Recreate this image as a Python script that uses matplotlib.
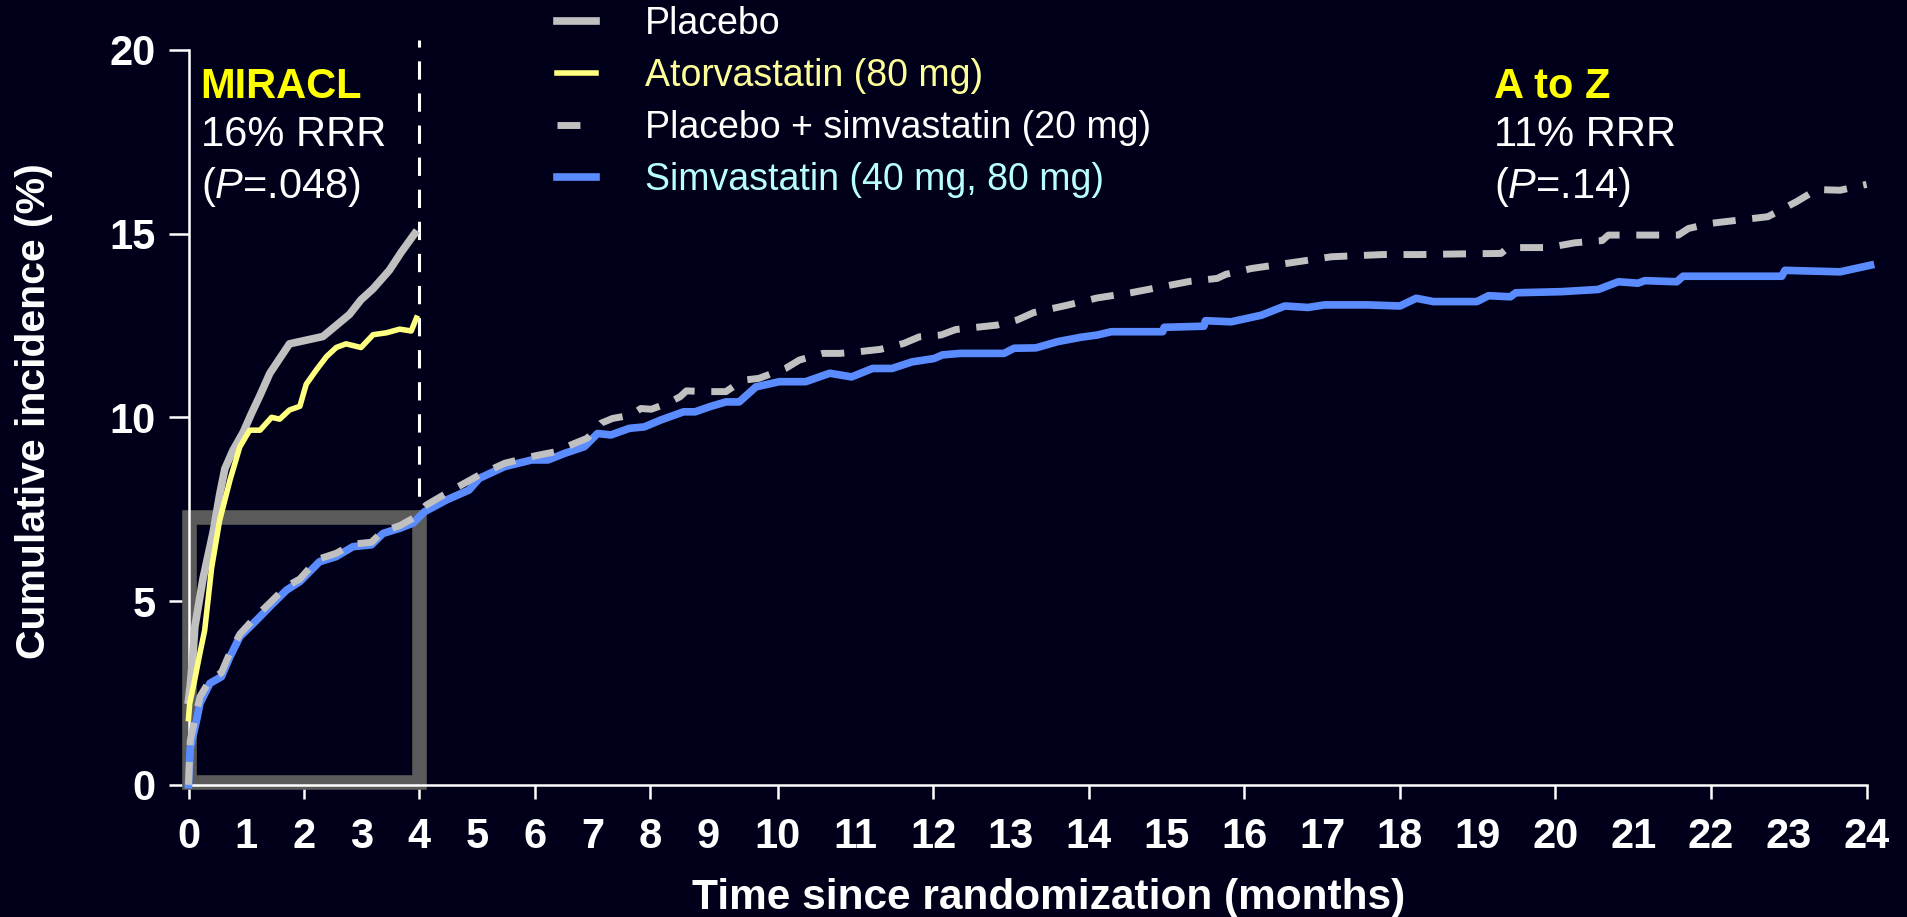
import numpy as np
import matplotlib
matplotlib.use("Agg")
import matplotlib.pyplot as plt
from matplotlib.patches import Rectangle
from matplotlib import font_manager

plt.rcParams['font.family'] = ['Liberation Sans', 'DejaVu Sans']
plt.rcParams['mathtext.fontset'] = 'custom'
plt.rcParams['mathtext.rm'] = 'Liberation Sans'
plt.rcParams['mathtext.it'] = 'Liberation Sans:italic'

_names = {f.name for f in font_manager.fontManager.ttflist}
TICK_FAMILY = ['Liberation Sans Narrow'] if 'Liberation Sans Narrow' in _names else ['Liberation Sans']
TICK_SIZE = 34 if 'Liberation Sans Narrow' in _names else 30

# ---------------- data ----------------
placebo_miracl_m = [0, 0.03, 0.08, 0.11, 0.25, 0.43, 0.54, 0.63, 0.77, 0.95, 1.09, 1.24, 1.41,
                    1.58, 1.75, 2.04, 2.33, 2.56, 2.79, 2.99, 3.2, 3.48, 3.69, 3.92]
placebo_miracl_v = [2.3, 2.7, 3.6, 4.3, 5.6, 6.9, 7.9, 8.6, 9.1, 9.6, 10.1, 10.6, 11.2,
                    11.6, 12.0, 12.1, 12.2, 12.5, 12.8, 13.2, 13.5, 14.0, 14.5, 15.0]

atorva_m = [0, 0.02, 0.1, 0.2, 0.28, 0.4, 0.54, 0.72, 0.89, 1.06, 1.24, 1.44, 1.58, 1.75, 1.93,
            2.04, 2.22, 2.39, 2.56, 2.73, 2.99, 3.2, 3.43, 3.66, 3.86, 3.95]
atorva_v = [1.8, 2.2, 2.8, 3.6, 4.2, 5.9, 7.2, 8.3, 9.2, 9.65, 9.65, 10.0, 9.95, 10.2, 10.3,
            10.9, 11.3, 11.65, 11.9, 12.0, 11.9, 12.25, 12.3, 12.4, 12.35, 12.7]

simva_m = [0, 0.03, 0.14, 0.2, 0.37, 0.57, 0.72, 0.89, 1.18, 1.41, 1.70, 1.93, 2.10, 2.27, 2.56,
           2.85, 3.17, 3.37, 3.66, 3.89, 4.09, 4.47, 4.86, 5.04, 5.48, 5.95, 6.23, 6.52, 6.86,
           7.09, 7.32, 7.64, 7.9, 8.19, 8.58, 8.78, 9.03, 9.26, 9.45, 9.69, 10.02, 10.36, 10.67,
           10.95, 11.22, 11.47, 11.73, 12.01, 12.12, 12.35, 12.91, 13.04, 13.32, 13.6, 13.9,
           14.11, 14.29, 14.95, 14.97, 15.48, 15.5, 15.83, 16.22, 16.52, 16.82, 17.03, 17.58,
           18.0, 18.21, 18.43, 18.99, 19.14, 19.42, 19.49, 20.08, 20.55, 20.81, 21.06, 21.15,
           21.56, 21.64, 22.91, 22.95, 23.66, 24.05]
simva_v = [0.0, 1.0, 1.76, 2.22, 2.76, 2.94, 3.49, 4.03, 4.48, 4.85, 5.30, 5.53, 5.80, 6.07, 6.21,
           6.48, 6.53, 6.84, 6.98, 7.12, 7.43, 7.75, 8.02, 8.34, 8.66, 8.84, 8.84, 9.02, 9.2,
           9.56, 9.52, 9.7, 9.74, 9.93, 10.15, 10.15, 10.29, 10.42, 10.42, 10.83, 10.97, 10.97, 11.2,
           11.1, 11.33, 11.33, 11.51, 11.6, 11.7, 11.74, 11.74, 11.88, 11.89, 12.06, 12.18,
           12.24, 12.33, 12.33, 12.45, 12.48, 12.63, 12.6, 12.78, 13.03, 12.99, 13.06, 13.06,
           13.03, 13.24, 13.15, 13.15, 13.31, 13.28, 13.39, 13.42, 13.48, 13.69, 13.65, 13.72,
           13.69, 13.84, 13.84, 14.0, 13.96, 14.14]

plsimva_m = [0, 0.03, 0.14, 0.2, 0.37, 0.57, 0.72, 0.89, 1.18, 1.41, 1.70, 1.93, 2.10, 2.27, 2.56,
             2.85, 3.17, 3.37, 3.66, 3.89, 4.12, 4.52, 5.04, 5.48, 6.0, 6.35, 6.69, 6.91, 7.15,
             7.35, 7.67, 7.84, 8.02, 8.3, 8.52, 8.63, 8.97, 9.26, 9.5, 9.73, 10.1, 10.28, 10.58,
             10.8, 11.06, 11.32, 11.62, 11.82, 12.1, 12.29, 12.82, 13.08, 13.29, 13.72, 14.11,
             14.54, 15.3, 15.65, 15.76, 16.09, 16.61, 17.12, 17.78, 18.25, 18.86, 19.3, 19.39,
             19.91, 20.25, 20.6, 20.68, 21.58, 21.71, 22.0, 22.73, 23.1, 23.36, 23.66, 24.0]
plsimva_v = [0.0, 1.2, 2.0, 2.4, 2.85, 3.05, 3.6, 4.1, 4.6, 4.95, 5.4, 5.6, 5.9, 6.15, 6.3,
             6.55, 6.6, 6.9, 7.05, 7.25, 7.61, 7.98, 8.43, 8.75, 8.95, 9.06, 9.29, 9.43, 9.84,
             9.97, 10.06, 10.24, 10.22, 10.38, 10.56, 10.72, 10.70, 10.70, 11.01, 11.06, 11.33, 11.56, 11.74,
             11.74, 11.79, 11.85, 12.01, 12.19, 12.24, 12.39, 12.51, 12.65, 12.85, 13.05, 13.25,
             13.39, 13.7, 13.78, 13.89, 14.05, 14.21, 14.37, 14.43, 14.43, 14.45, 14.46, 14.62,
             14.62, 14.75, 14.81, 14.96, 14.96, 15.14, 15.28, 15.46, 15.87, 16.2, 16.18, 16.34]

series_labels = ["Placebo", "Atorvastatin (80 mg)", "Placebo + simvastatin (20 mg)",
                 "Simvastatin (40 mg, 80 mg)"]
x_tick_labels = [str(i) for i in range(25)]
y_tick_values = [0, 5, 10, 15, 20]

# ---------------- style ----------------
BG = '#00001a'
GRAY = '#c0c0c0'
YELLOW_LINE = '#ffff80'
BLUE = '#5b8cff'
BOXC = '#5a5a5a'

# piecewise-linear month axis (the original chart compresses the first months)
KM = np.array([0.0, 9.0, 10.0, 24.0])
KP = np.array([0.0, 426.6, 484.0, 1378.6])


def fwd(x):
    x = np.asarray(x, dtype=float)
    y = np.interp(x, KM, KP)
    y = np.where(x < 0, x * 47.4, y)
    y = np.where(x > 24, KP[-1] + (x - 24) * 63.9, y)
    return y


def inv(y):
    y = np.asarray(y, dtype=float)
    x = np.interp(y, KP, KM)
    x = np.where(y < 0, y / 47.4, x)
    x = np.where(y > KP[-1], 24 + (y - KP[-1]) / 63.9, x)
    return x


fig = plt.figure(figsize=(19.08, 9.17), dpi=100, facecolor=BG)
ax = fig.add_axes([0.0988, 0.1442, 0.8795, 0.8014])
ax.set_facecolor(BG)
ax.set_xscale('function', functions=(fwd, inv))
ax.set_xlim(0, 24)
ax.set_ylim(0, 20)

# vertical separator
ax.plot([4, 4], [0, 20.27], color='white', lw=2.2, dashes=(6, 4.5), clip_on=False, zorder=2)
# highlight box
ax.add_patch(Rectangle((0, 0.08), 4, 7.22, fill=False, ec=BOXC, lw=10.5,
                       joinstyle='miter', clip_on=False, zorder=2.5))

l1, = ax.plot(placebo_miracl_m, placebo_miracl_v, color=GRAY, lw=5.5, clip_on=False, zorder=3,
              solid_joinstyle='round')
l2, = ax.plot(atorva_m, atorva_v, color=YELLOW_LINE, lw=4.0, clip_on=False, zorder=3.2,
              solid_joinstyle='round')
l4, = ax.plot(simva_m, simva_v, color=BLUE, lw=5.5, clip_on=False, zorder=3.4,
              solid_joinstyle='round')
l3, = ax.plot(plsimva_m, plsimva_v, color=GRAY, lw=5.0, dashes=(3.3, 2.4), clip_on=False,
              zorder=3.6)

# axes styling
for s in ['top', 'right']:
    ax.spines[s].set_visible(False)
for s in ['left', 'bottom']:
    ax.spines[s].set_color('white')
    ax.spines[s].set_linewidth(1.8)

ax.set_yticks(y_tick_values)
ax.set_yticklabels([str(v) for v in y_tick_values])
ax.tick_params(axis='y', direction='out', length=14.5, width=1.8, color='white',
               labelcolor='white', labelsize=TICK_SIZE, pad=9)
even = list(range(0, 25, 2))
odd = list(range(1, 25, 2))
ax.set_xticks(even)
ax.set_xticklabels([x_tick_labels[i] for i in even])
ax.set_xticks(odd, minor=True)
ax.set_xticklabels([x_tick_labels[i] for i in odd], minor=True)
ax.tick_params(axis='x', which='major', direction='out', length=10, width=1.8, color='white',
               labelcolor='white', labelsize=TICK_SIZE, pad=13.5)
ax.tick_params(axis='x', which='minor', direction='out', length=0, width=0,
               labelcolor='white', labelsize=TICK_SIZE, pad=23.5)
for lab in ax.get_xticklabels(which='both') + ax.get_yticklabels():
    lab.set_fontweight('bold')
    lab.set_family(TICK_FAMILY)

fig.text(34 / 1908, 0.552, "Cumulative incidence (%)", rotation=90, ha='center', va='center',
         color='white', fontsize=29.5, fontweight='bold')
fig.text(0.5494, 0.021, "Time since randomization (months)", ha='center', va='center',
         color='white', fontsize=30.5, fontweight='bold')

# annotations
fig.text(0.1052, 0.8936, "MIRACL", color='#ffff00', fontsize=30, fontweight='bold', va='baseline')
fig.text(0.1052, 0.8404, "16% RRR", color='white', fontsize=30, va='baseline')
fig.text(0.1052, 0.7846, r"($\mathit{P}$=.048)", color='white', fontsize=30, va='baseline')
fig.text(0.7831, 0.8936, "A to Z", color='#ffff00', fontsize=30, fontweight='bold', va='baseline')
fig.text(0.7831, 0.8404, "11% RRR", color='white', fontsize=30, va='baseline')
fig.text(0.7831, 0.7846, r"($\mathit{P}$=.14)", color='white', fontsize=30, va='baseline')

leg = fig.legend([l1, l2, l3, l4], series_labels, loc='upper left',
                 bbox_to_anchor=(0.2919, 0.993), frameon=False, fontsize=27,
                 handlelength=1.05, handletextpad=1.3, labelspacing=0.42,
                 borderpad=0, borderaxespad=0,
                 labelcolor=['white', '#ffff99', 'white', '#b8ffff'])

fig.savefig('out.png', dpi=100, facecolor=BG)
